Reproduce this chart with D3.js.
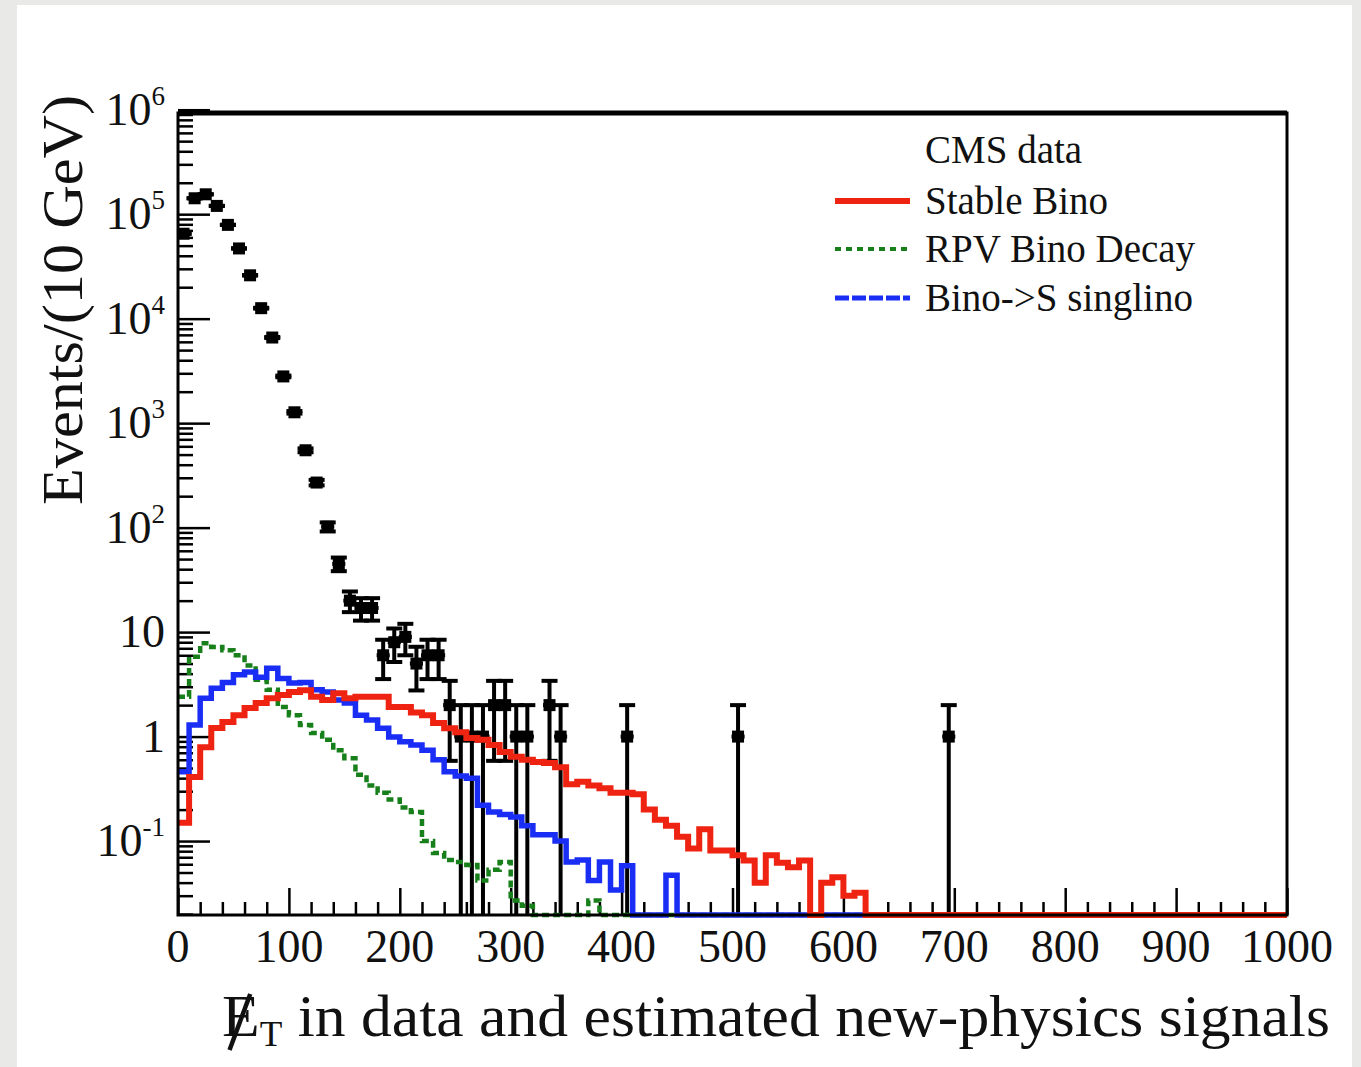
<!DOCTYPE html>
<html>
<head>
<meta charset="utf-8">
<script src="https://cdn.jsdelivr.net/npm/d3@7"></script>
<style>
    body { margin: 0; background: #e9e9e7; }
    svg { display: block; }
    text { font-family: "Liberation Serif", "DejaVu Serif", serif; fill: #111; }
</style>
</head>
<body>
<svg id="chart"></svg>
<script>
// bins are 10 GeV wide, histograms start at 0
const binWidth = 10;

// CMS data: lower bin edge (GeV) and event count
const dataLow = [0, 10, 20, 30, 40, 50, 60, 70, 80, 90, 100, 110, 120, 130, 140, 150, 160, 170,
    180, 190, 200, 210, 220, 230, 240, 250, 260, 270, 280, 290, 300, 310, 330, 340, 400, 500, 690];
const dataCounts = [65000, 142000, 155000, 120000, 79000, 47000, 26000, 12600, 6600, 2800, 1270, 550, 270, 102, 45, 20, 17, 17,
    6, 8, 9, 5, 6, 6, 2, 1, 1, 1, 2, 2, 1, 1, 2, 1, 1, 1, 1];

// signal estimates per 10 GeV bin
const stableBino = [0.15, 0.41, 0.79, 1.21, 1.38, 1.6, 1.88, 2.1, 2.33, 2.5, 2.67, 2.78, 2.4, 2.24, 2.6, 2.33, 2.4, 2.4,
    2.4, 1.92, 1.92, 1.7, 1.6, 1.35, 1.2, 1.1, 0.97, 0.93, 0.83, 0.71, 0.64, 0.6, 0.57, 0.56, 0.51, 0.35, 0.37, 0.34,
    0.32, 0.29, 0.29, 0.28, 0.2, 0.16, 0.14, 0.11, 0.085, 0.13, 0.081, 0.081, 0.073, 0.065, 0.04, 0.073, 0.062, 0.056,
    0.065, 0, 0.04, 0.045, 0.03, 0.032];
const rpvBinoDecay = [2.4, 5.8, 7.8, 7.2, 6.7, 6.0, 4.8, 3.5, 2.8, 1.92, 1.6, 1.29, 1.08, 0.93, 0.74, 0.62, 0.43, 0.34,
    0.29, 0.25, 0.21, 0.19, 0.1, 0.077, 0.066, 0.063, 0.059, 0.042, 0.053, 0.063, 0.027, 0.024, 0, 0, 0, 0, 0, 0.027];
const binoSinglino = [0.46, 1.29, 2.33, 2.9, 3.3, 3.9, 4.15, 3.7, 4.5, 3.6, 3.25, 3.3, 2.8, 2.67, 2.24, 2.1, 1.6, 1.44,
    1.2, 0.99, 0.89, 0.83, 0.74, 0.6, 0.46, 0.42, 0.4, 0.22, 0.19, 0.18, 0.17, 0.14, 0.115, 0.115, 0.1, 0.063, 0.066,
    0.042, 0.063, 0.034, 0.058, 0, 0, 0, 0.047];

const xTickLabels = [0, 100, 200, 300, 400, 500, 600, 700, 800, 900, 1000];
const yExponents = [-1, 0, 1, 2, 3, 4, 5, 6];
const legendLabels = ['CMS data', 'Stable Bino', 'RPV Bino Decay', 'Bino->S singlino'];

class metPlot {

    constructor(config, data) {
        this.config = {
            parent: config.parent,
            width: config.width || 1361,
            height: config.height || 1067,
            frame: config.frame || { left: 178, right: 1287, top: 113, bottom: 915 }
        };
        this.data = data;
        this.init();
    }

    init() {
        let self = this;

        self.svg = d3.select(self.config.parent)
            .attr('width', self.config.width)
            .attr('height', self.config.height);

        let f = self.config.frame;
        self.x = d3.scaleLinear().domain([0, 1000]).range([f.left, f.right]);
        self.y = d3.scaleLog().domain([0.0196, 9.3e5]).range([f.bottom, f.top]);

        self.colors = { stable: '#ef2311', rpv: '#17801b', singlino: '#1a2df5' };
    }

    stepPath(values) {
        let self = this;
        let ymin = self.y.domain()[0];
        let pts = [];
        values.forEach((v, i) => {
            let yy = self.y(Math.max(v, ymin));
            pts.push([self.x(i * binWidth), yy], [self.x((i + 1) * binWidth), yy]);
        });
        // empty bins up to the end of the axis sit on the frame
        pts.push([self.x(values.length * binWidth), self.y(ymin)], [self.x(1000), self.y(ymin)]);
        return d3.line()(pts);
    }

    render() {
        let self = this;
        let f = self.config.frame;

        self.svg.append('rect')
            .attr('width', self.config.width).attr('height', self.config.height)
            .attr('fill', '#e9e9e7');
        self.svg.append('rect')
            .attr('x', 17).attr('y', 5).attr('width', 1335).attr('height', 1062)
            .attr('fill', '#ffffff');

        self.svg.append('clipPath').attr('id', 'plotArea')
            .append('rect')
            .attr('x', f.left).attr('y', f.top)
            .attr('width', f.right - f.left).attr('height', f.bottom - f.top);

        // axes: ticks only on the left and bottom, pointing inwards
        let xMajor = d3.range(0, 1001, 100);
        let xMinor = d3.range(20, 1000, 20).filter(v => v % 100 !== 0);
        let xAxis = self.svg.append('g').attr('transform', `translate(0,${f.bottom})`);
        xAxis.append('g').call(d3.axisBottom(self.x).tickValues(xMajor).tickSize(-27).tickFormat(''));
        xAxis.append('g').call(d3.axisBottom(self.x).tickValues(xMinor).tickSize(-13).tickFormat(''));

        let yMajor = yExponents.map(e => Math.pow(10, e));
        let yMinor = [];
        for (let e = -2; e <= 5; e++) {
            for (let m = 2; m <= 9; m++) yMinor.push(m * Math.pow(10, e));
        }
        yMinor = yMinor.filter(v => v >= self.y.domain()[0] && v <= self.y.domain()[1]);
        let yAxis = self.svg.append('g').attr('transform', `translate(${f.left},0)`);
        yAxis.append('g').call(d3.axisLeft(self.y).tickValues(yMajor).tickSize(-32).tickFormat(''));
        yAxis.append('g').call(d3.axisLeft(self.y).tickValues(yMinor).tickSize(-15).tickFormat(''));

        self.svg.selectAll('.domain').remove();
        self.svg.selectAll('.tick line').attr('stroke', '#000').attr('stroke-width', 2.5);

        // tick labels
        self.svg.append('g').selectAll('text')
            .data(xTickLabels)
            .join('text')
            .attr('x', d => self.x(d))
            .attr('y', 962)
            .attr('text-anchor', 'middle')
            .style('font-size', '46px')
            .text(d => d);

        let yLab = self.svg.append('g').selectAll('text')
            .data(yExponents)
            .join('text')
            .attr('x', 165)
            .attr('y', d => self.y(Math.pow(10, d)) + 15)
            .attr('text-anchor', 'end')
            .style('font-size', '46px');
        yLab.append('tspan').text(d => d === 0 ? '1' : '10');
        yLab.filter(d => d !== 0 && d !== 1)
            .append('tspan')
            .attr('dy', -20)
            .style('font-size', '27px')
            .text(d => d);

        // data points with poisson-like error bars
        let pts = self.svg.append('g').attr('clip-path', 'url(#plotArea)')
            .selectAll('g')
            .data(dataLow.map((lo, i) => ({ lo: lo, n: dataCounts[i] })))
            .join('g');
        let ymin = self.y.domain()[0];
        let cx = d => self.x(d.lo + binWidth / 2);
        let yHi = d => self.y(d.n + Math.sqrt(d.n));
        let yLo = d => self.y(Math.max(d.n - Math.sqrt(d.n), ymin / 10));
        pts.append('line')
            .attr('x1', cx).attr('x2', cx)
            .attr('y1', yHi).attr('y2', yLo)
            .attr('stroke', '#000').attr('stroke-width', 4);
        pts.append('line')
            .attr('x1', d => cx(d) - 8).attr('x2', d => cx(d) + 8)
            .attr('y1', yHi).attr('y2', yHi)
            .attr('stroke', '#000').attr('stroke-width', 4);
        pts.append('line')
            .attr('x1', d => cx(d) - 8).attr('x2', d => cx(d) + 8)
            .attr('y1', yLo).attr('y2', yLo)
            .attr('stroke', '#000').attr('stroke-width', 4);
        pts.append('line')
            .attr('x1', d => self.x(d.lo) - 1).attr('x2', d => self.x(d.lo + binWidth) + 1)
            .attr('y1', d => self.y(d.n)).attr('y2', d => self.y(d.n))
            .attr('stroke', '#000').attr('stroke-width', 4);
        pts.append('rect')
            .attr('x', d => cx(d) - 6).attr('y', d => self.y(d.n) - 6)
            .attr('width', 12).attr('height', 12)
            .attr('fill', '#000');

        // signal histograms
        let hists = [
            { values: self.data.rpv, color: self.colors.rpv, width: 4.5, dash: '7,4' },
            { values: self.data.singlino, color: self.colors.singlino, width: 5.5, dash: null },
            { values: self.data.stable, color: self.colors.stable, width: 6, dash: null }
        ];
        self.svg.append('g').selectAll('path')
            .data(hists)
            .join('path')
            .attr('d', d => self.stepPath(d.values))
            .attr('fill', 'none')
            .attr('stroke', d => d.color)
            .attr('stroke-width', d => d.width)
            .attr('stroke-dasharray', d => d.dash);

        // frame
        self.svg.append('rect')
            .attr('x', f.left).attr('y', f.top)
            .attr('width', f.right - f.left).attr('height', f.bottom - f.top)
            .attr('fill', 'none').attr('stroke', '#000').attr('stroke-width', 3);
        self.svg.append('line')
            .attr('x1', f.left).attr('x2', f.right).attr('y1', f.top).attr('y2', f.top)
            .attr('stroke', '#000').attr('stroke-width', 5);

        // legend
        let legendY = [150, 201, 249, 298];
        let legendStyle = [null,
            { color: self.colors.stable, dash: null, width: 6 },
            { color: self.colors.rpv, dash: '6,5', width: 4 },
            { color: self.colors.singlino, dash: '14,3', width: 5 }];
        let legend = self.svg.append('g').selectAll('g')
            .data(legendLabels)
            .join('g')
            .attr('transform', (d, i) => `translate(0,${legendY[i]})`);
        legend.filter((d, i) => i > 0)
            .append('line')
            .attr('x1', 835).attr('x2', 910)
            .attr('stroke', (d, i) => legendStyle[i + 1].color)
            .attr('stroke-width', (d, i) => legendStyle[i + 1].width)
            .attr('stroke-dasharray', (d, i) => legendStyle[i + 1].dash);
        legend.append('text')
            .attr('x', 925)
            .attr('y', 13)
            .style('font-size', '39px')
            .text(d => d);

        // axis titles
        self.svg.append('text')
            .attr('transform', 'translate(82,300) rotate(-90)')
            .attr('text-anchor', 'middle')
            .style('font-size', '58px')
            .attr('textLength', 410)
            .attr('lengthAdjust', 'spacingAndGlyphs')
            .text('Events/(10 GeV)');

        let xt = self.svg.append('text')
            .attr('x', 222)
            .attr('y', 1036)
            .style('font-size', '60px')
            .attr('textLength', 1108)
            .attr('lengthAdjust', 'spacingAndGlyphs');
        xt.append('tspan').text('E');
        xt.append('tspan').attr('dy', 10).style('font-size', '36px').text('T');
        xt.append('tspan').attr('dy', -10).text(' in data and estimated new-physics signals');

        // slash through the E of the missing transverse energy symbol
        let node = xt.node();
        let e0 = 222, e1 = 258;
        if (node.getStartPositionOfChar) {
            e0 = node.getStartPositionOfChar(0).x;
            e1 = node.getEndPositionOfChar(0).x;
        }
        self.svg.append('line')
            .attr('x1', e0 + (e1 - e0) * 0.2).attr('y1', 1050)
            .attr('x2', e0 + (e1 - e0) * 0.75).attr('y2', 994)
            .attr('stroke', '#111').attr('stroke-width', 4.5);
    }
}

let plot = new metPlot({ parent: '#chart' },
    { stable: stableBino, rpv: rpvBinoDecay, singlino: binoSinglino });
plot.render();
</script>
</body>
</html>
